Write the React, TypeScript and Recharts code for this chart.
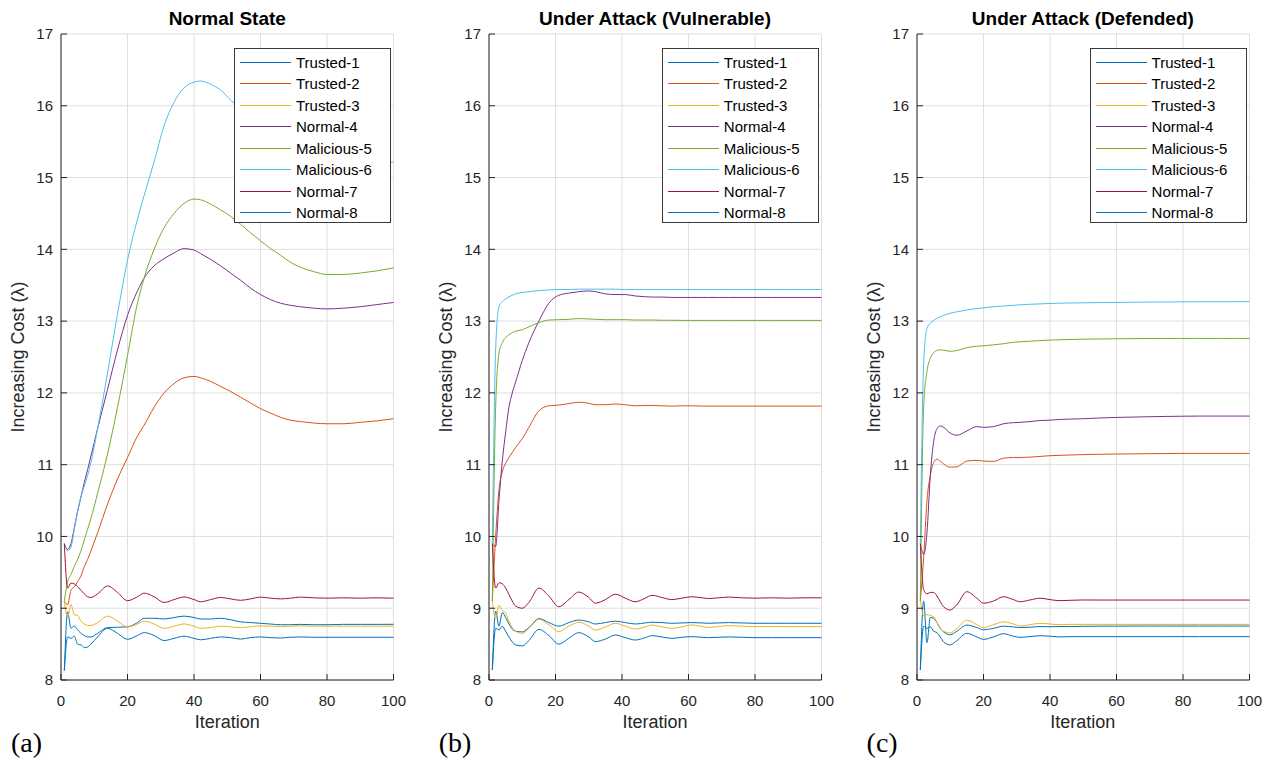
import { CartesianGrid, Line, LineChart, XAxis, YAxis } from "recharts";

const NAMES = [
  "Trusted-1",
  "Trusted-2",
  "Trusted-3",
  "Normal-4",
  "Malicious-5",
  "Malicious-6",
  "Normal-7",
  "Normal-8",
];
const COLORS = ["#0072BD", "#D95319", "#EDB120", "#7E2F8E", "#77AC30", "#4DBEEE", "#A2142F", "#0072BD"];
const X_TICKS = [0, 20, 40, 60, 80, 100];
const Y_TICKS = [8, 9, 10, 11, 12, 13, 14, 15, 16, 17];

// (a) Normal State
const iterA = [1, 2, 3, 4, 5, 6, 7, 8, 9, 11, 14, 17, 20, 23, 25, 28, 31, 34, 37, 40, 42, 45, 48, 51, 54, 57, 60, 63, 66, 69, 72, 76, 80, 85, 90, 95, 100];
const t1A = [8.13, 8.95, 8.72, 8.75, 8.7, 8.65, 8.62, 8.6, 8.6, 8.65, 8.73, 8.735, 8.74, 8.8, 8.86, 8.86, 8.85, 8.87, 8.89, 8.87, 8.85, 8.85, 8.86, 8.84, 8.81, 8.8, 8.79, 8.78, 8.77, 8.77, 8.775, 8.77, 8.77, 8.775, 8.775, 8.775, 8.776];
const t2A = [9.1, 9.05, 9.25, 9.3, 9.37, 9.45, 9.58, 9.68, 9.8, 10.05, 10.45, 10.8, 11.1, 11.4, 11.55, 11.8, 12.0, 12.13, 12.21, 12.23, 12.21, 12.16, 12.09, 12.02, 11.94, 11.86, 11.78, 11.72, 11.66, 11.62, 11.6, 11.58, 11.57, 11.57, 11.59, 11.61, 11.64];
const t3A = [9.1, 8.88, 9.05, 8.91, 8.9, 8.82, 8.78, 8.76, 8.76, 8.8, 8.89, 8.82, 8.74, 8.78, 8.82, 8.78, 8.72, 8.75, 8.78, 8.75, 8.72, 8.73, 8.75, 8.74, 8.73, 8.74, 8.755, 8.75, 8.745, 8.75, 8.755, 8.75, 8.75, 8.75, 8.75, 8.75, 8.75];
const n4A = [9.9, 9.82, 9.9, 10.12, 10.35, 10.55, 10.75, 10.93, 11.12, 11.5, 12.05, 12.6, 13.08, 13.42, 13.6, 13.77, 13.87, 13.95, 14.01, 13.99, 13.94, 13.86, 13.77, 13.67, 13.57, 13.46, 13.37, 13.3, 13.25, 13.22, 13.2, 13.18, 13.17, 13.18, 13.2, 13.23, 13.26];
const m5A = [9.1, 9.37, 9.47, 9.58, 9.68, 9.8, 9.95, 10.1, 10.25, 10.6, 11.15, 11.8, 12.52, 13.25, 13.6, 14.0, 14.3, 14.5, 14.64, 14.7, 14.69, 14.63, 14.55, 14.46, 14.35, 14.23, 14.12, 14.01, 13.92, 13.82, 13.75, 13.69, 13.65, 13.65, 13.67, 13.7, 13.74];
const m6A = [9.9, 9.8, 9.85, 10.1, 10.35, 10.55, 10.7, 10.85, 11.03, 11.5, 12.28, 13.1, 13.85, 14.42, 14.75, 15.22, 15.72, 16.05, 16.25, 16.33, 16.345, 16.3, 16.22, 16.08, 15.95, 15.82, 15.68, 15.56, 15.45, 15.36, 15.28, 15.2, 15.15, 15.12, 15.13, 15.17, 15.22];
const n7A = [9.9, 9.28, 9.35, 9.34, 9.3, 9.25, 9.2, 9.16, 9.15, 9.2, 9.31, 9.22, 9.105, 9.16, 9.21, 9.16, 9.08, 9.12, 9.157, 9.12, 9.09, 9.12, 9.15, 9.13, 9.11, 9.13, 9.155, 9.14, 9.13, 9.14, 9.155, 9.145, 9.14, 9.145, 9.14, 9.145, 9.14];
const n8A = [8.13, 8.6, 8.58, 8.61, 8.5, 8.49, 8.45, 8.46, 8.5, 8.6, 8.72, 8.65, 8.567, 8.62, 8.66, 8.62, 8.55, 8.58, 8.61, 8.58, 8.56, 8.58, 8.6, 8.59, 8.57, 8.59, 8.6, 8.59, 8.585, 8.595, 8.6, 8.595, 8.595, 8.595, 8.595, 8.595, 8.595];

// (b) Under Attack (Vulnerable)
const iterB = [1, 2, 3, 4, 5, 6, 7, 8, 10, 12, 15, 18, 21, 24, 27, 30, 32, 35, 38, 41, 44, 47, 49, 52, 55, 58, 61, 64, 66, 69, 72, 76, 80, 85, 90, 95, 100];
const t1B = [8.14, 8.96, 8.75, 8.94, 8.87, 8.78, 8.71, 8.68, 8.67, 8.73, 8.855, 8.8, 8.75, 8.8, 8.835, 8.81, 8.78, 8.8, 8.82, 8.8, 8.78, 8.795, 8.805, 8.8, 8.79, 8.795, 8.8, 8.795, 8.79, 8.795, 8.8, 8.795, 8.79, 8.79, 8.79, 8.79, 8.79];
const t2B = [9.1, 10.0, 10.65, 10.9, 11.02, 11.1, 11.17, 11.24, 11.36, 11.52, 11.75, 11.82, 11.83, 11.85, 11.87, 11.855, 11.835, 11.835, 11.845, 11.835, 11.82, 11.825, 11.825, 11.82, 11.815, 11.82, 11.82, 11.816, 11.816, 11.816, 11.816, 11.816, 11.816, 11.816, 11.816, 11.816, 11.816];
const t3B = [9.1, 8.85, 9.04, 8.97, 8.93, 8.82, 8.73, 8.68, 8.65, 8.72, 8.845, 8.77, 8.675, 8.75, 8.805, 8.75, 8.695, 8.74, 8.79, 8.75, 8.71, 8.74, 8.765, 8.74, 8.72, 8.74, 8.766, 8.745, 8.733, 8.745, 8.757, 8.75, 8.743, 8.745, 8.743, 8.743, 8.743];
const n4B = [9.9, 9.86, 10.5, 11.05, 11.45, 11.8, 12.0, 12.15, 12.45, 12.7, 13.0, 13.25, 13.36, 13.39, 13.41, 13.42, 13.41, 13.38, 13.37, 13.37, 13.35, 13.34, 13.335, 13.335, 13.33, 13.33, 13.33, 13.33, 13.33, 13.33, 13.33, 13.33, 13.33, 13.33, 13.33, 13.33, 13.33];
const m5B = [9.1, 11.8, 12.55, 12.7, 12.77, 12.81, 12.84, 12.86, 12.88, 12.92, 12.98, 13.015, 13.02, 13.025, 13.035, 13.03, 13.025, 13.02, 13.02, 13.02, 13.015, 13.015, 13.015, 13.012, 13.012, 13.01, 13.01, 13.01, 13.01, 13.01, 13.01, 13.01, 13.01, 13.01, 13.01, 13.01, 13.01];
const m6B = [9.9, 12.6, 13.2, 13.27, 13.31, 13.34, 13.36, 13.38, 13.4, 13.41, 13.425, 13.435, 13.44, 13.44, 13.445, 13.445, 13.445, 13.445, 13.445, 13.44, 13.44, 13.44, 13.44, 13.44, 13.44, 13.44, 13.44, 13.44, 13.44, 13.44, 13.44, 13.44, 13.44, 13.44, 13.44, 13.44, 13.44];
const n7B = [9.9, 9.28, 9.355, 9.34, 9.28, 9.19, 9.1, 9.03, 9.0, 9.08, 9.28, 9.17, 9.02, 9.12, 9.225, 9.15, 9.07, 9.12, 9.195, 9.14, 9.09, 9.14, 9.18, 9.15, 9.12, 9.14, 9.16, 9.145, 9.135, 9.145, 9.155, 9.145, 9.14, 9.145, 9.14, 9.145, 9.145];
const n8B = [8.14, 8.72, 8.7, 8.75, 8.68, 8.6, 8.53, 8.49, 8.475, 8.55, 8.705, 8.62, 8.5, 8.58, 8.66, 8.6, 8.535, 8.57, 8.627, 8.59, 8.557, 8.59, 8.618, 8.6, 8.58, 8.595, 8.604, 8.595, 8.59, 8.595, 8.6, 8.595, 8.59, 8.59, 8.59, 8.59, 8.59];

// (c) Under Attack (Defended)
const iterC = [1, 2, 3, 4, 5, 6, 7, 8, 10, 12, 15, 18, 20, 23, 26, 29, 31, 34, 37, 40, 43, 46, 50, 55, 60, 65, 70, 75, 80, 85, 90, 95, 100];
const t1C = [8.14, 9.1, 8.52, 8.87, 8.86, 8.8, 8.72, 8.67, 8.63, 8.68, 8.765, 8.73, 8.7, 8.72, 8.75, 8.74, 8.73, 8.735, 8.745, 8.742, 8.745, 8.745, 8.748, 8.75, 8.75, 8.752, 8.752, 8.752, 8.752, 8.752, 8.752, 8.752, 8.752];
const t2C = [9.1, 9.7, 10.5, 10.85, 11.03, 11.075, 11.05, 11.01, 10.965, 10.97, 11.05, 11.06, 11.05, 11.045, 11.09, 11.1, 11.1, 11.105, 11.115, 11.125, 11.13, 11.135, 11.14, 11.145, 11.148, 11.15, 11.153, 11.155, 11.157, 11.157, 11.157, 11.157, 11.157];
const t3C = [9.11, 8.9, 8.91, 8.9, 8.88, 8.8, 8.72, 8.68, 8.655, 8.72, 8.835, 8.77, 8.73, 8.77, 8.81, 8.78, 8.752, 8.77, 8.79, 8.78, 8.77, 8.775, 8.775, 8.775, 8.775, 8.775, 8.775, 8.775, 8.775, 8.775, 8.775, 8.775, 8.775];
const n4C = [9.9, 9.75, 10.05, 10.85, 11.32, 11.5, 11.54, 11.52, 11.44, 11.41, 11.47, 11.53, 11.52, 11.53, 11.57, 11.585, 11.59, 11.6, 11.615, 11.62, 11.63, 11.635, 11.64, 11.65, 11.658, 11.663, 11.668, 11.672, 11.675, 11.677, 11.677, 11.677, 11.677];
const m5C = [9.1, 11.8, 12.3, 12.48, 12.56, 12.59, 12.6, 12.595, 12.58, 12.59, 12.63, 12.65, 12.655, 12.67, 12.685, 12.705, 12.712, 12.72, 12.728, 12.736, 12.74, 12.744, 12.748, 12.751, 12.754, 12.756, 12.757, 12.758, 12.759, 12.759, 12.759, 12.759, 12.759];
const m6C = [9.9, 12.4, 12.9, 12.97, 13.01, 13.04, 13.06, 13.08, 13.11, 13.13, 13.155, 13.175, 13.186, 13.2, 13.21, 13.22, 13.227, 13.235, 13.24, 13.246, 13.25, 13.252, 13.255, 13.258, 13.26, 13.263, 13.265, 13.267, 13.268, 13.27, 13.27, 13.27, 13.272];
const n7C = [9.9, 9.26, 9.2, 9.22, 9.22, 9.17, 9.09, 9.02, 8.975, 9.05, 9.23, 9.14, 9.07, 9.1, 9.16, 9.12, 9.09, 9.115, 9.14, 9.12, 9.105, 9.11, 9.115, 9.114, 9.114, 9.114, 9.114, 9.114, 9.114, 9.114, 9.114, 9.114, 9.114];
const n8C = [8.14, 8.75, 8.72, 8.74, 8.68, 8.66, 8.6, 8.53, 8.49, 8.55, 8.65, 8.6, 8.566, 8.6, 8.645, 8.61, 8.594, 8.605, 8.617, 8.61, 8.6, 8.604, 8.604, 8.604, 8.604, 8.604, 8.604, 8.604, 8.604, 8.604, 8.604, 8.604, 8.604];

const buildRows = (iters: number[], series: number[][]) =>
  iters.map((it, i) => {
    const row: Record<string, number> = { it };
    NAMES.forEach((n, k) => {
      row[n] = series[k][i];
    });
    return row;
  });

const panels = [
  { title: "Normal State", tag: "(a)", rows: buildRows(iterA, [t1A, t2A, t3A, n4A, m5A, m6A, n7A, n8A]) },
  { title: "Under Attack (Vulnerable)", tag: "(b)", rows: buildRows(iterB, [t1B, t2B, t3B, n4B, m5B, m6B, n7B, n8B]) },
  { title: "Under Attack (Defended)", tag: "(c)", rows: buildRows(iterC, [t1C, t2C, t3C, n4C, m5C, m6C, n7C, n8C]) },
];

const FONT = "'Liberation Sans', Arial, Helvetica, sans-serif";
const AXIS = "#262626";
const W = 428;
const H = 766;
const PLOT_L = 61;
const PLOT_R = 393.5;
const PLOT_T = 34;
const PLOT_B = 680;

const LegendBox = () => (
  <div
    style={{
      position: "absolute",
      left: 234,
      top: 48,
      width: 157,
      height: 175,
      border: "1px solid #3a3a3a",
      background: "#fff",
      boxSizing: "border-box",
    }}
  >
    {NAMES.map((n, i) => (
      <div
        key={n}
        style={{ position: "absolute", left: 0, top: 3 + i * 21.43, height: 21, width: 155, display: "flex", alignItems: "center" }}
      >
        <svg width={58} height={21} style={{ flex: "none" }}>
          <line x1={5} x2={56} y1={10.5} y2={10.5} stroke={COLORS[i]} strokeWidth={1.2} />
        </svg>
        <span style={{ fontSize: 15, color: "#000", marginLeft: 3, lineHeight: "21px" }}>{n}</span>
      </div>
    ))}
  </div>
);

const Panel = ({ left, title, tag, rows }: { left: number; title: string; tag: string; rows: Record<string, number>[] }) => (
  <div style={{ position: "absolute", left, top: 0, width: W, height: H }}>
    <LineChart
      width={W}
      height={H}
      data={rows}
      margin={{ top: PLOT_T, right: W - PLOT_R, bottom: H - PLOT_B - 30, left: PLOT_L - 40 }}
    >
      <CartesianGrid stroke="#dfdfdf" />
      <XAxis
        dataKey="it"
        type="number"
        domain={[0, 100]}
        ticks={X_TICKS}
        interval={0}
        height={30}
        tickSize={-6}
        tickMargin={21}
        stroke={AXIS}
        tick={{ fontSize: 15, fill: AXIS }}
      />
      <XAxis
        xAxisId="top"
        orientation="top"
        type="number"
        domain={[0, 100]}
        allowDataOverflow
        ticks={X_TICKS}
        interval={0}
        height={0}
        tickSize={-6}
        tick={false}
        stroke={AXIS}
      />
      <YAxis
        type="number"
        domain={[8, 17]}
        ticks={Y_TICKS}
        interval={0}
        width={40}
        tickSize={-6}
        tickMargin={14}
        stroke={AXIS}
        tick={{ fontSize: 15, fill: AXIS }}
      />
      <YAxis
        yAxisId="right"
        orientation="right"
        type="number"
        domain={[8, 17]}
        allowDataOverflow
        ticks={Y_TICKS}
        interval={0}
        width={0}
        tickSize={-6}
        tick={false}
        stroke={AXIS}
      />
      {NAMES.map((n, i) => (
        <Line
          key={n}
          dataKey={n}
          type="monotone"
          stroke={COLORS[i]}
          strokeWidth={1}
          dot={false}
          isAnimationActive={false}
        />
      ))}
    </LineChart>
    <div
      style={{
        position: "absolute",
        left: PLOT_L - 20,
        width: PLOT_R - PLOT_L + 40,
        top: 8,
        lineHeight: "22px",
        textAlign: "center",
        fontWeight: "bold",
        fontSize: 19,
        color: "#000",
      }}
    >
      {title}
    </div>
    <div
      style={{
        position: "absolute",
        left: 18 - 200,
        top: (PLOT_T + PLOT_B) / 2 - 11,
        width: 400,
        lineHeight: "22px",
        textAlign: "center",
        fontSize: 18,
        color: AXIS,
        transform: "rotate(-90deg)",
      }}
    >
      Increasing Cost (λ)
    </div>
    <div
      style={{
        position: "absolute",
        left: PLOT_L,
        width: PLOT_R - PLOT_L,
        top: 711,
        lineHeight: "22px",
        textAlign: "center",
        fontSize: 18,
        color: AXIS,
      }}
    >
      Iteration
    </div>
    <LegendBox />
    <div
      style={{
        position: "absolute",
        left: 11,
        top: 727,
        lineHeight: "32px",
        fontSize: 28,
        fontFamily: "'Liberation Serif', 'DejaVu Serif', serif",
        color: "#000",
      }}
    >
      {tag}
    </div>
  </div>
);

export default function App() {
  return (
    <div
      style={{
        position: "relative",
        width: 1274,
        height: 766,
        margin: -8,
        background: "#fff",
        fontFamily: FONT,
        overflow: "hidden",
      }}
    >
      {panels.map((p, i) => (
        <Panel key={p.tag} left={i * 427.8} title={p.title} tag={p.tag} rows={p.rows} />
      ))}
    </div>
  );
}
